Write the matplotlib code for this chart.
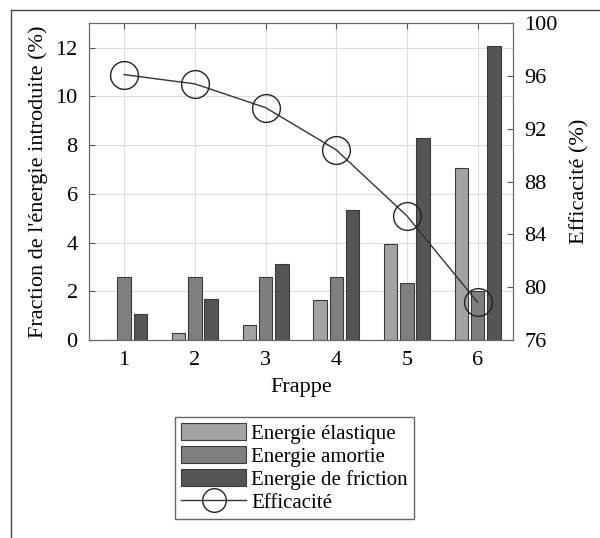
import numpy as np
import matplotlib
matplotlib.use('Agg')
import matplotlib.pyplot as plt
from matplotlib.lines import Line2D

plt.rcParams['font.family'] = ['Liberation Serif', 'DejaVu Serif']
plt.rcParams['font.size'] = 16

# données
frappe = [1, 2, 3, 4, 5, 6]
e_elastique = [0.0, 0.27, 0.6, 1.65, 3.95, 7.05]
e_amortie = [2.6, 2.57, 2.6, 2.6, 2.35, 2.0]
e_friction = [1.05, 1.7, 3.1, 5.35, 8.3, 12.05]
efficacite = [96.1, 95.4, 93.6, 90.4, 85.4, 78.85]

fig = plt.figure(figsize=(6.0, 5.38), dpi=100)
ax = fig.add_axes([0.148, 0.368, 0.707, 0.589])

x = np.array(frappe)
w = 0.19
d = 0.23
ax.bar(x - d, e_elastique, w, color='#a3a3a3', edgecolor='#3a3a3a', linewidth=0.8, label='Energie élastique', zorder=2)
ax.bar(x, e_amortie, w, color='#7f7f7f', edgecolor='#3a3a3a', linewidth=0.8, label='Energie amortie', zorder=2)
ax.bar(x + d, e_friction, w, color='#555555', edgecolor='#3a3a3a', linewidth=0.8, label='Energie de friction', zorder=2)

ax.set_xlim(0.5, 6.5)
ax.set_ylim(0, 13)
ax.set_xticks(frappe)
ax.set_yticks(range(0, 13, 2))
ax.grid(True, color='#dddddd', linewidth=0.8, zorder=0)
ax.set_axisbelow(True)
ax.tick_params(direction='in', top=True, right=False, length=4, color='#555555')
ax.tick_params(axis='x', pad=8)
ax.tick_params(axis='y', pad=8)
ax.set_xlabel('Frappe', fontsize=16, labelpad=6)
ax.set_ylabel("Fraction de l'énergie introduite (%)", fontsize=16, labelpad=5)
for s in ax.spines.values():
    s.set_color('#666666')

ax2 = ax.twinx()
ax2.plot(frappe, efficacite, color='#333333', linewidth=1.0, marker='o', markersize=20,
         markerfacecolor='none', markeredgecolor='#222222', markeredgewidth=1.0, zorder=3)
ax2.set_ylim(76, 100)
ax2.set_yticks(range(76, 101, 4))
ax2.tick_params(direction='in', length=4, color='#555555', pad=8)
ax2.set_ylabel('Efficacité (%)', fontsize=16, labelpad=9)
for s in ax2.spines.values():
    s.set_color('#666666')

handles, labels = ax.get_legend_handles_labels()
handles.append(Line2D([], [], color='#333333', linewidth=1.0, marker='o', markersize=17,
                      markerfacecolor='none', markeredgecolor='#222222'))
labels.append('Efficacité')
leg = fig.legend(handles, labels, loc='upper left', bbox_to_anchor=(175 / 600, 1 - 417 / 538),
                 bbox_transform=fig.transFigure, borderaxespad=0, fontsize=15,
                 handlelength=3.1, handleheight=0.85, labelspacing=0.12, handletextpad=0.25,
                 borderpad=0.3, fancybox=False, framealpha=1)
leg.get_frame().set_edgecolor('#666666')
leg.get_frame().set_linewidth(1.0)

# cadre de la figure
fig.add_artist(Line2D([11 / 600, 1], [1 - 10 / 538, 1 - 10 / 538], transform=fig.transFigure, color='#444444', linewidth=1.0))
fig.add_artist(Line2D([11 / 600, 11 / 600], [0, 1 - 10 / 538], transform=fig.transFigure, color='#444444', linewidth=1.0))

fig.savefig('out.png', dpi=100)
